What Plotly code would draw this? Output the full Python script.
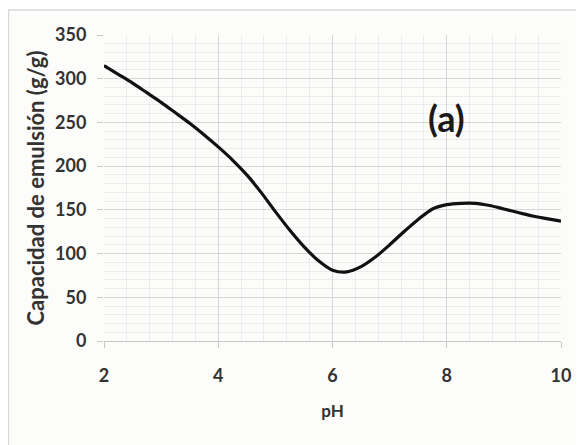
import plotly.graph_objects as go

ph = [2.0, 2.25, 2.5, 2.75, 3.0, 3.25, 3.5, 3.75, 4.0, 4.25, 4.5, 4.75, 5.0, 5.25, 5.5, 5.75,
      6.0, 6.25, 6.5, 6.75, 7.0, 7.25, 7.5, 7.75, 8.0, 8.25, 8.5, 8.75, 9.0, 9.25, 9.5, 9.75, 10.0]
capacidad = [315, 305, 295, 284, 273, 261, 249, 236, 222, 207, 190, 170, 148, 127, 108, 92,
             81, 79, 85, 96, 110, 125, 139, 151, 156, 157.5, 157.5, 155, 151, 147, 143, 140, 137]

x_ticks = [2, 4, 6, 8, 10]
y_ticks = [0, 50, 100, 150, 200, 250, 300, 350]

FONT = "Lato"
TXT = "#333333"

fig = go.Figure()
fig.add_trace(go.Scatter(x=ph, y=capacidad, mode="lines",
                         line=dict(color="#111111", width=3.2, shape="spline", smoothing=0.8),
                         showlegend=False, hoverinfo="skip"))

# page is offset by 8px body margin
W, H = 576, 437
L, R, T, B = 96, 23, 27, 104
pw, phh = W - L - R, H - T - B

def px(xp):
    return (xp - L) / pw

def py(yp):
    return (H - B - yp) / phh

fig.add_shape(type="rect", xref="paper", yref="paper",
              x0=px(0.5), x1=px(W + 20), y0=py(H + 20), y1=py(2),
              fillcolor="#fcfcfa", line=dict(color="#d9d9d9", width=1.5), layer="below")

fig.add_annotation(x=8.0, y=255, xref="x", yref="y", text="<b>(a)</b>", showarrow=False,
                   font=dict(family=FONT, size=36, color="#1a1a1a"))

fig.update_layout(
    width=W, height=H,
    margin=dict(l=L, r=R, t=T, b=B),
    paper_bgcolor="white", plot_bgcolor="#fcfcfa",
    font=dict(family=FONT, color=TXT),
    xaxis=dict(range=[2, 10], tickvals=x_ticks, ticktext=[f"<b>{v}</b>" for v in x_ticks],
               showgrid=True, gridcolor="#d6d6d6", gridwidth=1,
               minor=dict(dtick=0.4, tick0=2, showgrid=True, gridcolor="#ececec", gridwidth=1),
               ticks="outside", ticklen=6, tickcolor="#c8c8c8", ticklabelstandoff=12,
               showline=True, linecolor="#c8c8c8", zeroline=False,
               tickfont=dict(family=FONT, size=18, color=TXT),
               title=dict(text="<b>pH</b>", font=dict(family=FONT, size=17, color=TXT), standoff=20)),
    yaxis=dict(range=[0, 350], tickvals=y_ticks, ticktext=[f"<b>{v}</b>" for v in y_ticks],
               showgrid=True, gridcolor="#d6d6d6", gridwidth=1,
               minor=dict(dtick=10, showgrid=True, gridcolor="#ececec", gridwidth=1),
               ticks="outside", ticklen=6, tickcolor="#c8c8c8", ticklabelstandoff=7,
               showline=False, zeroline=False,
               tickfont=dict(family=FONT, size=18, color=TXT),
               title=dict(text="<b>Capacidad de emulsión (g/g)</b>",
                          font=dict(family=FONT, size=22, color=TXT), standoff=4)),
)

fig.write_html("out.html")
